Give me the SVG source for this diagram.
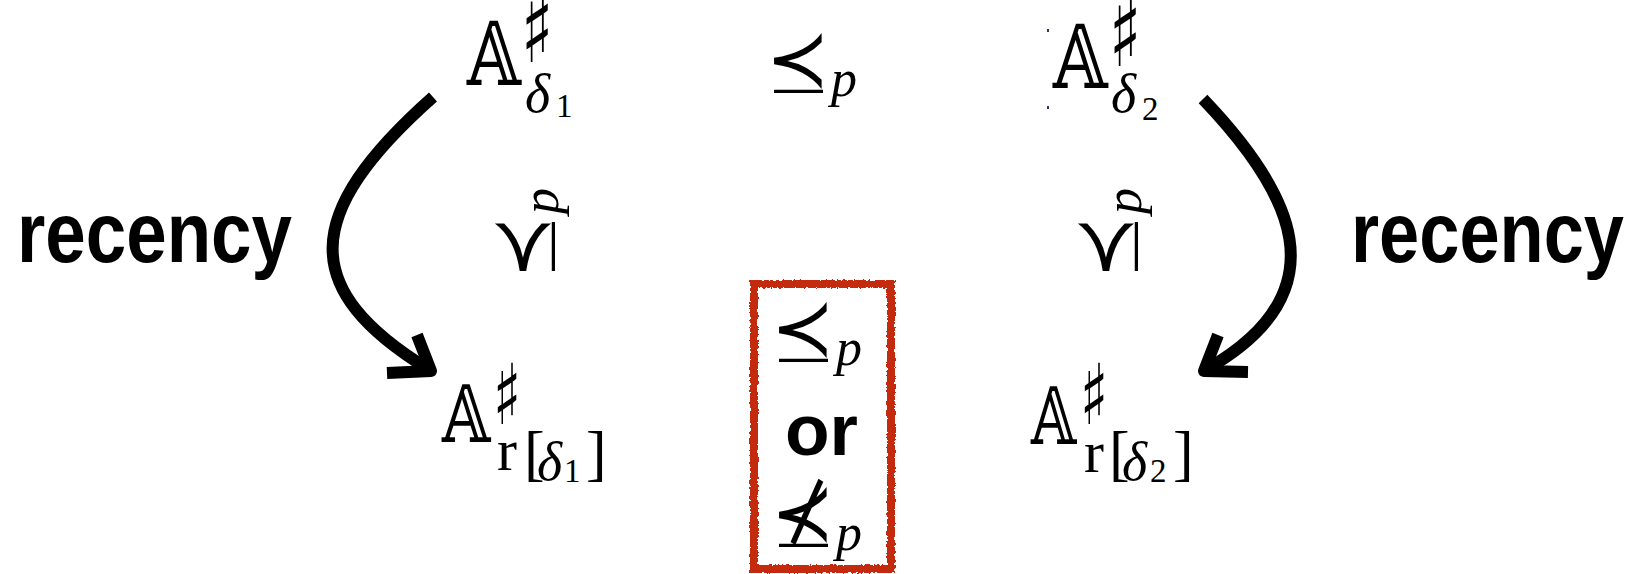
<svg xmlns="http://www.w3.org/2000/svg" width="1635" height="574" viewBox="0 0 1635 574">
<style>
.m{font-family:"Liberation Serif","DejaVu Serif",serif;fill:#000}
.it{font-style:italic}
.bb{font-family:"DejaVu Serif","DejaVu Sans",serif;fill:#000}
.sh{font-family:"DejaVu Sans",sans-serif;fill:#000}
.rel{font-family:"DejaVu Sans",sans-serif;fill:#000}
.bar{font-family:"Liberation Sans",Arial,sans-serif;fill:#000}
.lab{font-family:"Liberation Sans",Arial,sans-serif;font-weight:bold;fill:#000}
.arr{fill:none;stroke:#000;stroke-width:12}
.head{fill:none;stroke:#000;stroke-width:12;stroke-linejoin:round}
.box{fill:none;stroke:#c42a0e;stroke-width:8}
</style>
<defs>
<filter id="rough" x="-5%" y="-5%" width="110%" height="110%">
<feTurbulence type="fractalNoise" baseFrequency="0.35" numOctaves="2" seed="3"/>
<feDisplacementMap in="SourceGraphic" scale="4" xChannelSelector="R" yChannelSelector="G"/>
</filter>
</defs>
<rect width="1635" height="574" fill="#fff"/>

<g id="connectors">
<path class="arr" d="M433,97 C300,215 300,290 428,369"/>
<polyline class="head" points="417,335 431,371 387,373"/>
<path class="arr" d="M1203,99 C1290,190 1345,290 1207,369"/>
<polyline class="head" points="1218,335 1204,371 1248,372"/>
</g>

<g id="A-delta1">
<text class="bb" transform="translate(467,85) scale(0.79,1)" font-size="88">𝔸</text>
<text class="sh" transform="translate(521,62) scale(0.7,1)" font-size="96">♯</text>
<text class="m it" x="525" y="112" font-size="54">δ</text>
<text class="m" x="556" y="117" font-size="33">1</text>
</g>

<g id="A-delta2">
<text class="bb" transform="translate(1053,88) scale(0.8,1)" font-size="88">𝔸</text>
<text class="sh" transform="translate(1109,66) scale(0.7,1)" font-size="96">♯</text>
<text class="m it" x="1111" y="112" font-size="54">δ</text>
<text class="m" x="1142" y="120" font-size="33">2</text>
<rect x="1047" y="29" width="2" height="3" fill="#335"/>
<rect x="1047" y="106" width="2" height="3" fill="#335"/>
</g>

<g id="rel-top" transform="translate(770,85)">
<text class="rel" transform="translate(-4,1) scale(0.95,1)" font-size="80">≺</text>
<text class="bar" x="4" y="19" font-size="49">—</text>
<text class="m it" x="61" y="11" font-size="52">p</text>
</g>

<g id="rel-left" transform="translate(547,275) rotate(-90)">
<text class="rel" transform="translate(-4,1) scale(0.95,1)" font-size="80">≺</text>
<text class="bar" x="4" y="19" font-size="49">—</text>
<text class="m it" x="61" y="11" font-size="52">p</text>
</g>

<g id="rel-right" transform="translate(1130,275) rotate(-90)">
<text class="rel" transform="translate(-4,1) scale(0.95,1)" font-size="80">≺</text>
<text class="bar" x="4" y="19" font-size="49">—</text>
<text class="m it" x="61" y="11" font-size="52">p</text>
</g>

<g id="recency-left">
<text class="lab" x="17" y="262" font-size="86" textLength="275" lengthAdjust="spacingAndGlyphs">recency</text>
</g>

<g id="recency-right">
<text class="lab" x="1351" y="262" font-size="86" textLength="273" lengthAdjust="spacingAndGlyphs">recency</text>
</g>

<g id="A-r-delta1">
<text class="bb" transform="translate(442,442) scale(0.79,1)" font-size="79">𝔸</text>
<text class="sh" transform="translate(493,424) scale(0.7,1)" font-size="84">♯</text>
<text class="m" x="497" y="470" font-size="60">r</text>
<text class="m" x="524" y="474" font-size="62">[</text>
<text class="m it" x="537" y="480" font-size="54">δ</text>
<text class="m" x="564" y="482" font-size="33">1</text>
<text class="m" x="586" y="474" font-size="62">]</text>
</g>

<g id="A-r-delta2">
<text class="bb" transform="translate(1031,444) scale(0.74,1)" font-size="79">𝔸</text>
<text class="sh" transform="translate(1080,424) scale(0.7,1)" font-size="84">♯</text>
<text class="m" x="1084" y="472" font-size="60">r</text>
<text class="m" x="1109" y="474" font-size="62">[</text>
<text class="m it" x="1122" y="480" font-size="54">δ</text>
<text class="m" x="1150" y="482" font-size="33">2</text>
<text class="m" x="1173" y="474" font-size="62">]</text>
</g>

<g id="choice-box">
<rect class="box" x="754" y="284" width="137" height="285" filter="url(#rough)"/>
<g transform="translate(775,354)">
<text class="rel" transform="translate(-4,1) scale(0.95,1)" font-size="80">≺</text>
<text class="bar" x="4" y="19" font-size="49">—</text>
<text class="m it" x="61" y="11" font-size="52">p</text>
</g>
<text class="lab" x="785" y="455" font-size="73">or</text>
<g transform="translate(775,539)">
<text class="rel" transform="translate(-4,1) scale(0.95,1)" font-size="80">⊀</text>
<text class="bar" x="4" y="19" font-size="49">—</text>
<text class="m it" x="61" y="11" font-size="52">p</text>
</g>
</g>
</svg>
